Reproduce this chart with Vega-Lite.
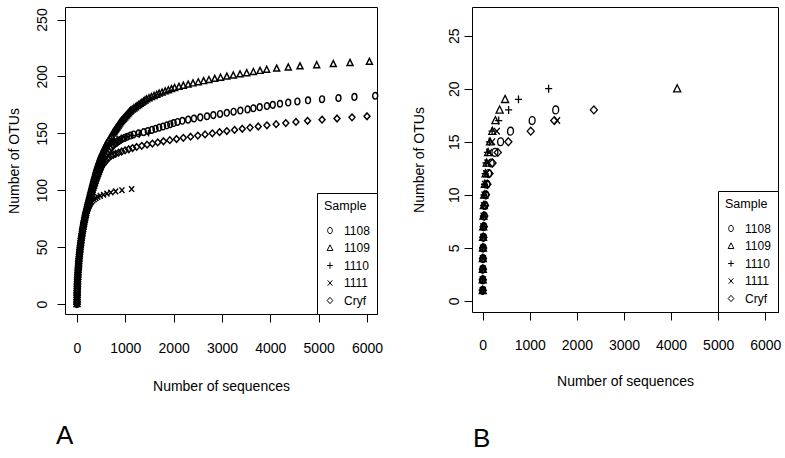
{
"$schema": "https://vega.github.io/schema/vega-lite/v6.json",
"padding": {"left": 6, "top": 6, "right": 0, "bottom": 0},
"background": "white",
"datasets": {
"a": [
{"sample":"1109","otus":0,"seqs":0},{"sample":"1109","otus":2,"seqs":1},{"sample":"1109","otus":4,"seqs":1},{"sample":"1109","otus":6,"seqs":2},{"sample":"1109","otus":8,"seqs":2},{"sample":"1109","otus":10,"seqs":3},{"sample":"1109","otus":12,"seqs":4},{"sample":"1109","otus":14,"seqs":5},{"sample":"1109","otus":16,"seqs":7},{"sample":"1109","otus":18,"seqs":8},{"sample":"1109","otus":20,"seqs":10},{"sample":"1109","otus":22,"seqs":12},{"sample":"1109","otus":24,"seqs":15},{"sample":"1109","otus":26,"seqs":17},{"sample":"1109","otus":28,"seqs":20},{"sample":"1109","otus":30,"seqs":22},{"sample":"1109","otus":32,"seqs":25},{"sample":"1109","otus":34,"seqs":28},{"sample":"1109","otus":36,"seqs":32},{"sample":"1109","otus":38,"seqs":35},{"sample":"1109","otus":40,"seqs":38},{"sample":"1109","otus":42,"seqs":42},{"sample":"1109","otus":44,"seqs":47},{"sample":"1109","otus":46,"seqs":51},{"sample":"1109","otus":48,"seqs":56},{"sample":"1109","otus":50,"seqs":60},{"sample":"1109","otus":52,"seqs":66},{"sample":"1109","otus":54,"seqs":72},{"sample":"1109","otus":56,"seqs":78},{"sample":"1109","otus":58,"seqs":84},{"sample":"1109","otus":60,"seqs":90},{"sample":"1109","otus":62,"seqs":97},{"sample":"1109","otus":64,"seqs":104},{"sample":"1109","otus":66,"seqs":111},{"sample":"1109","otus":68,"seqs":118},{"sample":"1109","otus":70,"seqs":125},{"sample":"1109","otus":72,"seqs":134},{"sample":"1109","otus":74,"seqs":143},{"sample":"1109","otus":76,"seqs":152},{"sample":"1109","otus":78,"seqs":161},{"sample":"1109","otus":80,"seqs":170},{"sample":"1109","otus":82,"seqs":181},{"sample":"1109","otus":84,"seqs":192},{"sample":"1109","otus":86,"seqs":203},{"sample":"1109","otus":88,"seqs":214},{"sample":"1109","otus":90,"seqs":225},{"sample":"1109","otus":92,"seqs":237},{"sample":"1109","otus":94,"seqs":249},{"sample":"1109","otus":96,"seqs":261},{"sample":"1109","otus":98,"seqs":273},{"sample":"1109","otus":100,"seqs":285},{"sample":"1109","otus":102,"seqs":297},{"sample":"1109","otus":104,"seqs":309},{"sample":"1109","otus":106,"seqs":321},{"sample":"1109","otus":108,"seqs":333},{"sample":"1109","otus":110,"seqs":345},{"sample":"1109","otus":112,"seqs":358},{"sample":"1109","otus":114,"seqs":371},{"sample":"1109","otus":116,"seqs":384},{"sample":"1109","otus":118,"seqs":397},{"sample":"1109","otus":120,"seqs":410},{"sample":"1109","otus":122,"seqs":426},{"sample":"1109","otus":124,"seqs":442},{"sample":"1109","otus":126,"seqs":458},{"sample":"1109","otus":128,"seqs":474},{"sample":"1109","otus":130,"seqs":490},{"sample":"1109","otus":132,"seqs":512},{"sample":"1109","otus":134,"seqs":534},{"sample":"1109","otus":136,"seqs":556},{"sample":"1109","otus":138,"seqs":578},{"sample":"1109","otus":140,"seqs":600},{"sample":"1109","otus":142,"seqs":628},{"sample":"1109","otus":144,"seqs":656},{"sample":"1109","otus":146,"seqs":684},{"sample":"1109","otus":148,"seqs":712},{"sample":"1109","otus":150,"seqs":740},{"sample":"1109","otus":151,"seqs":756},{"sample":"1109","otus":152,"seqs":772},{"sample":"1109","otus":153,"seqs":788},{"sample":"1109","otus":154,"seqs":804},{"sample":"1109","otus":155,"seqs":820},{"sample":"1109","otus":156,"seqs":836},{"sample":"1109","otus":157,"seqs":852},{"sample":"1109","otus":158,"seqs":868},{"sample":"1109","otus":159,"seqs":884},{"sample":"1109","otus":160,"seqs":900},{"sample":"1109","otus":161,"seqs":921},{"sample":"1109","otus":162,"seqs":942},{"sample":"1109","otus":163,"seqs":963},{"sample":"1109","otus":164,"seqs":984},{"sample":"1109","otus":165,"seqs":1005},{"sample":"1109","otus":166,"seqs":1026},{"sample":"1109","otus":167,"seqs":1047},{"sample":"1109","otus":168,"seqs":1068},{"sample":"1109","otus":169,"seqs":1089},{"sample":"1109","otus":170,"seqs":1110},{"sample":"1109","otus":171,"seqs":1143},{"sample":"1109","otus":172,"seqs":1176},{"sample":"1109","otus":173,"seqs":1209},{"sample":"1109","otus":174,"seqs":1242},{"sample":"1109","otus":175,"seqs":1275},{"sample":"1109","otus":176,"seqs":1308},{"sample":"1109","otus":177,"seqs":1341},{"sample":"1109","otus":178,"seqs":1374},{"sample":"1109","otus":179,"seqs":1407},{"sample":"1109","otus":180,"seqs":1440},{"sample":"1109","otus":181,"seqs":1490},{"sample":"1109","otus":182,"seqs":1540},{"sample":"1109","otus":183,"seqs":1595},{"sample":"1109","otus":184,"seqs":1650},{"sample":"1109","otus":185,"seqs":1700},{"sample":"1109","otus":186,"seqs":1760},{"sample":"1109","otus":187,"seqs":1825},{"sample":"1109","otus":188,"seqs":1890},{"sample":"1109","otus":189,"seqs":1955},{"sample":"1109","otus":190,"seqs":2020},{"sample":"1109","otus":191,"seqs":2110},{"sample":"1109","otus":192,"seqs":2200},{"sample":"1109","otus":193,"seqs":2300},{"sample":"1109","otus":194,"seqs":2400},{"sample":"1109","otus":195,"seqs":2510},{"sample":"1109","otus":196,"seqs":2620},{"sample":"1109","otus":197,"seqs":2730},{"sample":"1109","otus":198,"seqs":2850},{"sample":"1109","otus":199,"seqs":2970},{"sample":"1109","otus":200,"seqs":3100},{"sample":"1109","otus":201,"seqs":3234},{"sample":"1109","otus":202,"seqs":3373},{"sample":"1109","otus":203,"seqs":3511},{"sample":"1109","otus":204,"seqs":3649},{"sample":"1109","otus":205,"seqs":3787},{"sample":"1109","otus":206,"seqs":3925},{"sample":"1109","otus":207,"seqs":4132},{"sample":"1109","otus":208,"seqs":4372},{"sample":"1109","otus":209,"seqs":4614},{"sample":"1109","otus":210,"seqs":4960},{"sample":"1109","otus":211,"seqs":5303},{"sample":"1109","otus":212,"seqs":5649},{"sample":"1109","otus":213,"seqs":6050},
{"sample":"1108","otus":0,"seqs":0},{"sample":"1108","otus":2,"seqs":1},{"sample":"1108","otus":4,"seqs":1},{"sample":"1108","otus":6,"seqs":2},{"sample":"1108","otus":8,"seqs":2},{"sample":"1108","otus":10,"seqs":3},{"sample":"1108","otus":12,"seqs":5},{"sample":"1108","otus":14,"seqs":6},{"sample":"1108","otus":16,"seqs":8},{"sample":"1108","otus":18,"seqs":9},{"sample":"1108","otus":20,"seqs":11},{"sample":"1108","otus":22,"seqs":14},{"sample":"1108","otus":24,"seqs":16},{"sample":"1108","otus":26,"seqs":19},{"sample":"1108","otus":28,"seqs":21},{"sample":"1108","otus":30,"seqs":24},{"sample":"1108","otus":32,"seqs":28},{"sample":"1108","otus":34,"seqs":31},{"sample":"1108","otus":36,"seqs":35},{"sample":"1108","otus":38,"seqs":38},{"sample":"1108","otus":40,"seqs":42},{"sample":"1108","otus":42,"seqs":47},{"sample":"1108","otus":44,"seqs":52},{"sample":"1108","otus":46,"seqs":56},{"sample":"1108","otus":48,"seqs":61},{"sample":"1108","otus":50,"seqs":66},{"sample":"1108","otus":52,"seqs":72},{"sample":"1108","otus":54,"seqs":79},{"sample":"1108","otus":56,"seqs":85},{"sample":"1108","otus":58,"seqs":92},{"sample":"1108","otus":60,"seqs":98},{"sample":"1108","otus":62,"seqs":106},{"sample":"1108","otus":64,"seqs":114},{"sample":"1108","otus":66,"seqs":121},{"sample":"1108","otus":68,"seqs":129},{"sample":"1108","otus":70,"seqs":137},{"sample":"1108","otus":72,"seqs":147},{"sample":"1108","otus":74,"seqs":156},{"sample":"1108","otus":76,"seqs":166},{"sample":"1108","otus":78,"seqs":175},{"sample":"1108","otus":80,"seqs":185},{"sample":"1108","otus":82,"seqs":198},{"sample":"1108","otus":84,"seqs":211},{"sample":"1108","otus":86,"seqs":224},{"sample":"1108","otus":88,"seqs":237},{"sample":"1108","otus":90,"seqs":250},{"sample":"1108","otus":92,"seqs":263},{"sample":"1108","otus":94,"seqs":276},{"sample":"1108","otus":96,"seqs":289},{"sample":"1108","otus":98,"seqs":302},{"sample":"1108","otus":100,"seqs":315},{"sample":"1108","otus":102,"seqs":329},{"sample":"1108","otus":104,"seqs":343},{"sample":"1108","otus":106,"seqs":357},{"sample":"1108","otus":108,"seqs":371},{"sample":"1108","otus":110,"seqs":385},{"sample":"1108","otus":112,"seqs":402},{"sample":"1108","otus":114,"seqs":419},{"sample":"1108","otus":116,"seqs":436},{"sample":"1108","otus":118,"seqs":453},{"sample":"1108","otus":120,"seqs":470},{"sample":"1108","otus":122,"seqs":490},{"sample":"1108","otus":124,"seqs":510},{"sample":"1108","otus":126,"seqs":532},{"sample":"1108","otus":128,"seqs":556},{"sample":"1108","otus":130,"seqs":580},{"sample":"1108","otus":132,"seqs":612},{"sample":"1108","otus":134,"seqs":644},{"sample":"1108","otus":136,"seqs":680},{"sample":"1108","otus":138,"seqs":720},{"sample":"1108","otus":140,"seqs":760},{"sample":"1108","otus":141,"seqs":790},{"sample":"1108","otus":142,"seqs":820},{"sample":"1108","otus":143,"seqs":855},{"sample":"1108","otus":144,"seqs":890},{"sample":"1108","otus":145,"seqs":930},{"sample":"1108","otus":146,"seqs":985},{"sample":"1108","otus":147,"seqs":1040},{"sample":"1108","otus":148,"seqs":1105},{"sample":"1108","otus":149,"seqs":1170},{"sample":"1108","otus":150,"seqs":1275},{"sample":"1108","otus":151,"seqs":1380},{"sample":"1108","otus":152,"seqs":1465},{"sample":"1108","otus":153,"seqs":1550},{"sample":"1108","otus":154,"seqs":1625},{"sample":"1108","otus":155,"seqs":1700},{"sample":"1108","otus":156,"seqs":1780},{"sample":"1108","otus":157,"seqs":1860},{"sample":"1108","otus":158,"seqs":1930},{"sample":"1108","otus":159,"seqs":2000},{"sample":"1108","otus":160,"seqs":2080},{"sample":"1108","otus":161,"seqs":2180},{"sample":"1108","otus":162,"seqs":2300},{"sample":"1108","otus":163,"seqs":2420},{"sample":"1108","otus":164,"seqs":2550},{"sample":"1108","otus":165,"seqs":2690},{"sample":"1108","otus":166,"seqs":2820},{"sample":"1108","otus":167,"seqs":2960},{"sample":"1108","otus":168,"seqs":3100},{"sample":"1108","otus":169,"seqs":3240},{"sample":"1108","otus":170,"seqs":3380},{"sample":"1108","otus":171,"seqs":3530},{"sample":"1108","otus":172,"seqs":3650},{"sample":"1108","otus":173,"seqs":3780},{"sample":"1108","otus":174,"seqs":3930},{"sample":"1108","otus":175,"seqs":4050},{"sample":"1108","otus":176,"seqs":4200},{"sample":"1108","otus":177,"seqs":4370},{"sample":"1108","otus":178,"seqs":4560},{"sample":"1108","otus":179,"seqs":4780},{"sample":"1108","otus":180,"seqs":5070},{"sample":"1108","otus":181,"seqs":5410},{"sample":"1108","otus":182,"seqs":5740},{"sample":"1108","otus":183,"seqs":6170},
{"sample":"1110","otus":0,"seqs":0},{"sample":"1110","otus":2,"seqs":1},{"sample":"1110","otus":4,"seqs":1},{"sample":"1110","otus":6,"seqs":2},{"sample":"1110","otus":8,"seqs":2},{"sample":"1110","otus":10,"seqs":3},{"sample":"1110","otus":12,"seqs":4},{"sample":"1110","otus":14,"seqs":5},{"sample":"1110","otus":16,"seqs":7},{"sample":"1110","otus":18,"seqs":8},{"sample":"1110","otus":20,"seqs":10},{"sample":"1110","otus":22,"seqs":13},{"sample":"1110","otus":24,"seqs":15},{"sample":"1110","otus":26,"seqs":18},{"sample":"1110","otus":28,"seqs":20},{"sample":"1110","otus":30,"seqs":23},{"sample":"1110","otus":32,"seqs":26},{"sample":"1110","otus":34,"seqs":30},{"sample":"1110","otus":36,"seqs":33},{"sample":"1110","otus":38,"seqs":37},{"sample":"1110","otus":40,"seqs":40},{"sample":"1110","otus":42,"seqs":45},{"sample":"1110","otus":44,"seqs":49},{"sample":"1110","otus":46,"seqs":54},{"sample":"1110","otus":48,"seqs":58},{"sample":"1110","otus":50,"seqs":63},{"sample":"1110","otus":52,"seqs":69},{"sample":"1110","otus":54,"seqs":75},{"sample":"1110","otus":56,"seqs":82},{"sample":"1110","otus":58,"seqs":88},{"sample":"1110","otus":60,"seqs":94},{"sample":"1110","otus":62,"seqs":101},{"sample":"1110","otus":64,"seqs":109},{"sample":"1110","otus":66,"seqs":116},{"sample":"1110","otus":68,"seqs":124},{"sample":"1110","otus":70,"seqs":131},{"sample":"1110","otus":72,"seqs":140},{"sample":"1110","otus":74,"seqs":150},{"sample":"1110","otus":76,"seqs":159},{"sample":"1110","otus":78,"seqs":169},{"sample":"1110","otus":80,"seqs":178},{"sample":"1110","otus":82,"seqs":190},{"sample":"1110","otus":84,"seqs":203},{"sample":"1110","otus":86,"seqs":215},{"sample":"1110","otus":88,"seqs":228},{"sample":"1110","otus":90,"seqs":240},{"sample":"1110","otus":92,"seqs":252},{"sample":"1110","otus":94,"seqs":264},{"sample":"1110","otus":96,"seqs":276},{"sample":"1110","otus":98,"seqs":288},{"sample":"1110","otus":100,"seqs":300},{"sample":"1110","otus":102,"seqs":312},{"sample":"1110","otus":104,"seqs":324},{"sample":"1110","otus":106,"seqs":336},{"sample":"1110","otus":108,"seqs":348},{"sample":"1110","otus":110,"seqs":360},{"sample":"1110","otus":112,"seqs":374},{"sample":"1110","otus":114,"seqs":388},{"sample":"1110","otus":116,"seqs":402},{"sample":"1110","otus":118,"seqs":416},{"sample":"1110","otus":120,"seqs":430},{"sample":"1110","otus":122,"seqs":448},{"sample":"1110","otus":124,"seqs":466},{"sample":"1110","otus":126,"seqs":484},{"sample":"1110","otus":128,"seqs":502},{"sample":"1110","otus":130,"seqs":520},{"sample":"1110","otus":131,"seqs":530},{"sample":"1110","otus":132,"seqs":540},{"sample":"1110","otus":133,"seqs":552},{"sample":"1110","otus":134,"seqs":565},{"sample":"1110","otus":135,"seqs":577},{"sample":"1110","otus":136,"seqs":590},{"sample":"1110","otus":137,"seqs":605},{"sample":"1110","otus":138,"seqs":620},{"sample":"1110","otus":139,"seqs":640},{"sample":"1110","otus":140,"seqs":660},{"sample":"1110","otus":141,"seqs":680},{"sample":"1110","otus":142,"seqs":700},{"sample":"1110","otus":143,"seqs":720},{"sample":"1110","otus":144,"seqs":760},{"sample":"1110","otus":145,"seqs":830},{"sample":"1110","otus":146,"seqs":920},{"sample":"1110","otus":147,"seqs":1020},{"sample":"1110","otus":148,"seqs":1140},{"sample":"1110","otus":149,"seqs":1290},{"sample":"1110","otus":150,"seqs":1480},
{"sample":"1111","otus":0,"seqs":0},{"sample":"1111","otus":2,"seqs":1},{"sample":"1111","otus":4,"seqs":1},{"sample":"1111","otus":6,"seqs":2},{"sample":"1111","otus":8,"seqs":2},{"sample":"1111","otus":10,"seqs":3},{"sample":"1111","otus":12,"seqs":4},{"sample":"1111","otus":14,"seqs":5},{"sample":"1111","otus":16,"seqs":7},{"sample":"1111","otus":18,"seqs":8},{"sample":"1111","otus":20,"seqs":10},{"sample":"1111","otus":22,"seqs":13},{"sample":"1111","otus":24,"seqs":15},{"sample":"1111","otus":26,"seqs":18},{"sample":"1111","otus":28,"seqs":20},{"sample":"1111","otus":30,"seqs":23},{"sample":"1111","otus":32,"seqs":26},{"sample":"1111","otus":34,"seqs":30},{"sample":"1111","otus":36,"seqs":33},{"sample":"1111","otus":38,"seqs":37},{"sample":"1111","otus":40,"seqs":40},{"sample":"1111","otus":42,"seqs":45},{"sample":"1111","otus":44,"seqs":49},{"sample":"1111","otus":46,"seqs":54},{"sample":"1111","otus":48,"seqs":58},{"sample":"1111","otus":50,"seqs":63},{"sample":"1111","otus":52,"seqs":69},{"sample":"1111","otus":54,"seqs":76},{"sample":"1111","otus":56,"seqs":82},{"sample":"1111","otus":58,"seqs":89},{"sample":"1111","otus":60,"seqs":95},{"sample":"1111","otus":62,"seqs":103},{"sample":"1111","otus":64,"seqs":111},{"sample":"1111","otus":66,"seqs":119},{"sample":"1111","otus":68,"seqs":127},{"sample":"1111","otus":70,"seqs":135},{"sample":"1111","otus":72,"seqs":146},{"sample":"1111","otus":74,"seqs":157},{"sample":"1111","otus":76,"seqs":168},{"sample":"1111","otus":78,"seqs":179},{"sample":"1111","otus":80,"seqs":190},{"sample":"1111","otus":82,"seqs":208},{"sample":"1111","otus":84,"seqs":226},{"sample":"1111","otus":85,"seqs":235},{"sample":"1111","otus":86,"seqs":245},{"sample":"1111","otus":87,"seqs":256},{"sample":"1111","otus":88,"seqs":270},{"sample":"1111","otus":89,"seqs":285},{"sample":"1111","otus":90,"seqs":300},{"sample":"1111","otus":91,"seqs":325},{"sample":"1111","otus":92,"seqs":355},{"sample":"1111","otus":93,"seqs":390},{"sample":"1111","otus":94,"seqs":430},{"sample":"1111","otus":95,"seqs":480},{"sample":"1111","otus":96,"seqs":550},{"sample":"1111","otus":97,"seqs":620},{"sample":"1111","otus":98,"seqs":700},{"sample":"1111","otus":99,"seqs":800},{"sample":"1111","otus":100,"seqs":930},{"sample":"1111","otus":101,"seqs":1130},
{"sample":"Cryf","otus":0,"seqs":0},{"sample":"Cryf","otus":2,"seqs":1},{"sample":"Cryf","otus":4,"seqs":1},{"sample":"Cryf","otus":6,"seqs":2},{"sample":"Cryf","otus":8,"seqs":2},{"sample":"Cryf","otus":10,"seqs":3},{"sample":"Cryf","otus":12,"seqs":5},{"sample":"Cryf","otus":14,"seqs":6},{"sample":"Cryf","otus":16,"seqs":8},{"sample":"Cryf","otus":18,"seqs":9},{"sample":"Cryf","otus":20,"seqs":11},{"sample":"Cryf","otus":22,"seqs":14},{"sample":"Cryf","otus":24,"seqs":17},{"sample":"Cryf","otus":26,"seqs":19},{"sample":"Cryf","otus":28,"seqs":22},{"sample":"Cryf","otus":30,"seqs":25},{"sample":"Cryf","otus":32,"seqs":29},{"sample":"Cryf","otus":34,"seqs":33},{"sample":"Cryf","otus":36,"seqs":36},{"sample":"Cryf","otus":38,"seqs":40},{"sample":"Cryf","otus":40,"seqs":44},{"sample":"Cryf","otus":42,"seqs":49},{"sample":"Cryf","otus":44,"seqs":54},{"sample":"Cryf","otus":46,"seqs":59},{"sample":"Cryf","otus":48,"seqs":64},{"sample":"Cryf","otus":50,"seqs":69},{"sample":"Cryf","otus":52,"seqs":76},{"sample":"Cryf","otus":54,"seqs":82},{"sample":"Cryf","otus":56,"seqs":89},{"sample":"Cryf","otus":58,"seqs":95},{"sample":"Cryf","otus":60,"seqs":102},{"sample":"Cryf","otus":62,"seqs":110},{"sample":"Cryf","otus":64,"seqs":118},{"sample":"Cryf","otus":66,"seqs":127},{"sample":"Cryf","otus":68,"seqs":135},{"sample":"Cryf","otus":70,"seqs":143},{"sample":"Cryf","otus":72,"seqs":153},{"sample":"Cryf","otus":74,"seqs":163},{"sample":"Cryf","otus":76,"seqs":173},{"sample":"Cryf","otus":78,"seqs":183},{"sample":"Cryf","otus":80,"seqs":193},{"sample":"Cryf","otus":82,"seqs":206},{"sample":"Cryf","otus":84,"seqs":220},{"sample":"Cryf","otus":86,"seqs":233},{"sample":"Cryf","otus":88,"seqs":247},{"sample":"Cryf","otus":90,"seqs":260},{"sample":"Cryf","otus":92,"seqs":274},{"sample":"Cryf","otus":94,"seqs":288},{"sample":"Cryf","otus":96,"seqs":302},{"sample":"Cryf","otus":98,"seqs":316},{"sample":"Cryf","otus":100,"seqs":330},{"sample":"Cryf","otus":102,"seqs":346},{"sample":"Cryf","otus":104,"seqs":362},{"sample":"Cryf","otus":106,"seqs":378},{"sample":"Cryf","otus":108,"seqs":394},{"sample":"Cryf","otus":110,"seqs":410},{"sample":"Cryf","otus":112,"seqs":428},{"sample":"Cryf","otus":114,"seqs":446},{"sample":"Cryf","otus":116,"seqs":464},{"sample":"Cryf","otus":118,"seqs":482},{"sample":"Cryf","otus":120,"seqs":500},{"sample":"Cryf","otus":122,"seqs":530},{"sample":"Cryf","otus":124,"seqs":565},{"sample":"Cryf","otus":126,"seqs":605},{"sample":"Cryf","otus":128,"seqs":650},{"sample":"Cryf","otus":130,"seqs":700},{"sample":"Cryf","otus":131,"seqs":750},{"sample":"Cryf","otus":132,"seqs":800},{"sample":"Cryf","otus":133,"seqs":860},{"sample":"Cryf","otus":134,"seqs":925},{"sample":"Cryf","otus":135,"seqs":995},{"sample":"Cryf","otus":136,"seqs":1070},{"sample":"Cryf","otus":137,"seqs":1150},{"sample":"Cryf","otus":138,"seqs":1235},{"sample":"Cryf","otus":139,"seqs":1340},{"sample":"Cryf","otus":140,"seqs":1450},{"sample":"Cryf","otus":141,"seqs":1560},{"sample":"Cryf","otus":142,"seqs":1670},{"sample":"Cryf","otus":143,"seqs":1790},{"sample":"Cryf","otus":144,"seqs":1920},{"sample":"Cryf","otus":145,"seqs":2060},{"sample":"Cryf","otus":146,"seqs":2200},{"sample":"Cryf","otus":147,"seqs":2350},{"sample":"Cryf","otus":148,"seqs":2500},{"sample":"Cryf","otus":149,"seqs":2650},{"sample":"Cryf","otus":150,"seqs":2800},{"sample":"Cryf","otus":151,"seqs":2950},{"sample":"Cryf","otus":152,"seqs":3100},{"sample":"Cryf","otus":153,"seqs":3260},{"sample":"Cryf","otus":154,"seqs":3420},{"sample":"Cryf","otus":155,"seqs":3580},{"sample":"Cryf","otus":156,"seqs":3750},{"sample":"Cryf","otus":157,"seqs":3930},{"sample":"Cryf","otus":158,"seqs":4120},{"sample":"Cryf","otus":159,"seqs":4320},{"sample":"Cryf","otus":160,"seqs":4530},{"sample":"Cryf","otus":161,"seqs":4770},{"sample":"Cryf","otus":162,"seqs":5070},{"sample":"Cryf","otus":163,"seqs":5380},{"sample":"Cryf","otus":164,"seqs":5690},{"sample":"Cryf","otus":165,"seqs":6000}
],
"b": [
{"sample":"1108","otus":1,"seqs":1},{"sample":"1108","otus":2,"seqs":2},{"sample":"1108","otus":3,"seqs":4},{"sample":"1108","otus":4,"seqs":6},{"sample":"1108","otus":5,"seqs":10},{"sample":"1108","otus":6,"seqs":15},{"sample":"1108","otus":7,"seqs":22},{"sample":"1108","otus":8,"seqs":32},{"sample":"1108","otus":9,"seqs":46},{"sample":"1108","otus":10,"seqs":65},{"sample":"1108","otus":11,"seqs":90},{"sample":"1108","otus":12,"seqs":125},{"sample":"1108","otus":13,"seqs":180},{"sample":"1108","otus":14,"seqs":260},{"sample":"1108","otus":15,"seqs":380},{"sample":"1108","otus":16,"seqs":590},{"sample":"1108","otus":17,"seqs":1050},{"sample":"1108","otus":18,"seqs":1550},
{"sample":"1109","otus":1,"seqs":1},{"sample":"1109","otus":2,"seqs":1},{"sample":"1109","otus":3,"seqs":2},{"sample":"1109","otus":4,"seqs":3},{"sample":"1109","otus":5,"seqs":5},{"sample":"1109","otus":6,"seqs":7},{"sample":"1109","otus":7,"seqs":11},{"sample":"1109","otus":8,"seqs":16},{"sample":"1109","otus":9,"seqs":23},{"sample":"1109","otus":10,"seqs":32},{"sample":"1109","otus":11,"seqs":45},{"sample":"1109","otus":12,"seqs":62},{"sample":"1109","otus":13,"seqs":85},{"sample":"1109","otus":14,"seqs":115},{"sample":"1109","otus":15,"seqs":155},{"sample":"1109","otus":16,"seqs":205},{"sample":"1109","otus":17,"seqs":270},{"sample":"1109","otus":18,"seqs":360},{"sample":"1109","otus":19,"seqs":475},{"sample":"1109","otus":20,"seqs":4130},
{"sample":"1110","otus":1,"seqs":1},{"sample":"1110","otus":2,"seqs":1},{"sample":"1110","otus":3,"seqs":2},{"sample":"1110","otus":4,"seqs":3},{"sample":"1110","otus":5,"seqs":4},{"sample":"1110","otus":6,"seqs":6},{"sample":"1110","otus":7,"seqs":9},{"sample":"1110","otus":8,"seqs":13},{"sample":"1110","otus":9,"seqs":19},{"sample":"1110","otus":10,"seqs":27},{"sample":"1110","otus":11,"seqs":38},{"sample":"1110","otus":12,"seqs":52},{"sample":"1110","otus":13,"seqs":72},{"sample":"1110","otus":14,"seqs":100},{"sample":"1110","otus":15,"seqs":140},{"sample":"1110","otus":16,"seqs":200},{"sample":"1110","otus":17,"seqs":340},{"sample":"1110","otus":18,"seqs":550},{"sample":"1110","otus":19,"seqs":760},{"sample":"1110","otus":20,"seqs":1400},
{"sample":"1111","otus":1,"seqs":1},{"sample":"1111","otus":2,"seqs":2},{"sample":"1111","otus":3,"seqs":3},{"sample":"1111","otus":4,"seqs":4},{"sample":"1111","otus":5,"seqs":6},{"sample":"1111","otus":6,"seqs":9},{"sample":"1111","otus":7,"seqs":13},{"sample":"1111","otus":8,"seqs":19},{"sample":"1111","otus":9,"seqs":27},{"sample":"1111","otus":10,"seqs":38},{"sample":"1111","otus":11,"seqs":52},{"sample":"1111","otus":12,"seqs":72},{"sample":"1111","otus":13,"seqs":100},{"sample":"1111","otus":14,"seqs":140},{"sample":"1111","otus":15,"seqs":200},{"sample":"1111","otus":16,"seqs":300},{"sample":"1111","otus":17,"seqs":1580},
{"sample":"Cryf","otus":1,"seqs":1},{"sample":"Cryf","otus":2,"seqs":2},{"sample":"Cryf","otus":3,"seqs":4},{"sample":"Cryf","otus":4,"seqs":6},{"sample":"Cryf","otus":5,"seqs":10},{"sample":"Cryf","otus":6,"seqs":16},{"sample":"Cryf","otus":7,"seqs":24},{"sample":"Cryf","otus":8,"seqs":35},{"sample":"Cryf","otus":9,"seqs":50},{"sample":"Cryf","otus":10,"seqs":70},{"sample":"Cryf","otus":11,"seqs":100},{"sample":"Cryf","otus":12,"seqs":145},{"sample":"Cryf","otus":13,"seqs":210},{"sample":"Cryf","otus":14,"seqs":320},{"sample":"Cryf","otus":15,"seqs":545},{"sample":"Cryf","otus":16,"seqs":1020},{"sample":"Cryf","otus":17,"seqs":1520},{"sample":"Cryf","otus":18,"seqs":2360}
]
},
"hconcat": [
{
"width": 312, "height": 307,
"data": {"name": "a"},
"title": {"text": "A", "orient": "bottom", "anchor": "start", "frame": "group", "fontSize": 26, "fontWeight": "normal", "offset": 30, "dx": -9, "color": "black", "font": "Liberation Sans"},
"mark": {"type": "point", "filled": false, "size": 44, "strokeWidth": 1.45, "color": "black", "opacity": 1},
"encoding": {
"x": {"field": "seqs", "type": "quantitative", "scale": {"domain": [-248, 6207], "nice": false, "zero": false},
 "axis": {"values": [0,1000,2000,3000,4000,5000,6000], "format": "d", "title": "Number of sequences", "labelPadding": 19, "titlePadding": 24}},
"y": {"field": "otus", "type": "quantitative", "scale": {"domain": [-8.8, 261], "nice": false, "zero": false},
 "axis": {"values": [0,50,100,150,200,250], "format": "d", "title": "Number of OTUs", "labelPadding": 15, "titlePadding": 14}},
"shape": {"field": "sample", "type": "nominal",
 "scale": {"domain": ["1108","1109","1110","1111","Cryf"], "range": ["M0,-1A0.75,1,0,1,1,0,1A0.75,1,0,1,1,0,-1Z", "M0,-1L0.9,0.8L-0.9,0.8Z", "M-0.9,0L0.9,0M0,-1L0,1", "M-0.75,-0.85L0.75,0.85M-0.75,0.85L0.75,-0.85", "M0,-1L0.9,0L0,1L-0.9,0Z"]},
 "legend": {"title": "Sample"}}
}
},
{
"width": 306, "height": 305,
"data": {"name": "b"},
"title": {"text": "B", "orient": "bottom", "anchor": "start", "frame": "group", "fontSize": 26, "fontWeight": "normal", "offset": 38, "dx": 1, "color": "black", "font": "Liberation Sans"},
"mark": {"type": "point", "filled": false, "size": 62, "strokeWidth": 1.3, "color": "black", "opacity": 1},
"encoding": {
"x": {"field": "seqs", "type": "quantitative", "scale": {"domain": [-227, 6270], "nice": false, "zero": false},
 "axis": {"values": [0,1000,2000,3000,4000,5000,6000], "format": "d", "title": "Number of sequences", "labelPadding": 18, "titlePadding": 22}},
"y": {"field": "otus", "type": "quantitative", "scale": {"domain": [-1.04, 27.7], "nice": false, "zero": false},
 "axis": {"values": [0,5,10,15,20,25], "format": "d", "title": "Number of OTUs", "labelPadding": 10, "titlePadding": 21}},
"shape": {"field": "sample", "type": "nominal",
 "scale": {"domain": ["1108","1109","1110","1111","Cryf"], "range": ["M0,-1A0.75,1,0,1,1,0,1A0.75,1,0,1,1,0,-1Z", "M0,-1L0.9,0.8L-0.9,0.8Z", "M-0.9,0L0.9,0M0,-1L0,1", "M-0.75,-0.85L0.75,0.85M-0.75,0.85L0.75,-0.85", "M0,-1L0.9,0L0,1L-0.9,0Z"]},
 "legend": {"title": "Sample"}}
}
}
],
"spacing": 27,
"resolve": {"scale": {"x": "independent", "y": "independent", "shape": "independent"}, "axis": {"x": "independent", "y": "independent"}, "legend": {"shape": "independent"}},
"config": {
"font": "Liberation Sans",
"view": {"stroke": "black", "strokeWidth": 1},
"axis": {"grid": false, "domain": false, "ticks": true, "tickColor": "black", "tickSize": 8, "tickWidth": 1, "labelColor": "black", "labelFontSize": 14, "labelFont": "Liberation Sans", "titleFontSize": 14, "titleFont": "Liberation Sans", "titleFontWeight": "normal", "titleColor": "black", "labelOverlap": false, "labelFlush": false},
"axisY": {"labelAngle": -90, "labelAlign": "center", "labelBaseline": "middle"},
"legend": {"orient": "bottom-right", "offset": 0, "strokeColor": "black", "fillColor": "white", "padding": 7, "cornerRadius": 0, "titleFontSize": 12.5, "titleFontWeight": "normal", "titleColor": "black", "titleFont": "Liberation Sans", "titlePadding": 12, "labelFontSize": 12, "labelColor": "black", "labelFont": "Liberation Sans", "labelOffset": 8, "rowPadding": 5.5, "symbolSize": 40, "symbolStrokeColor": "black", "symbolStrokeWidth": 1, "symbolFillColor": "transparent"}
}
}
